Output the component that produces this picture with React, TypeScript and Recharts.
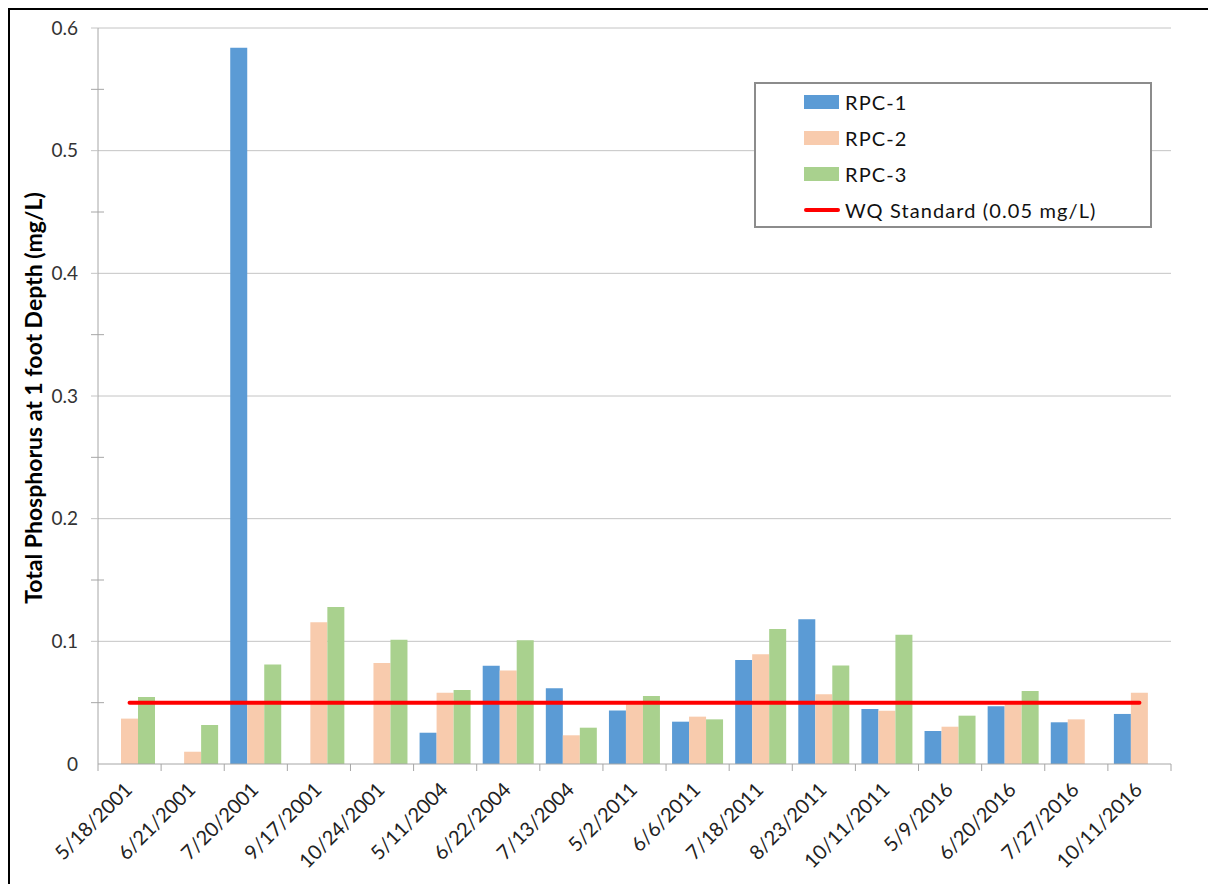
import {
  ComposedChart,
  Bar,
  Line,
  XAxis,
  YAxis,
  CartesianGrid,
  Legend,
} from "recharts";

const dates = [
  "5/18/2001",
  "6/21/2001",
  "7/20/2001",
  "9/17/2001",
  "10/24/2001",
  "5/11/2004",
  "6/22/2004",
  "7/13/2004",
  "5/2/2011",
  "6/6/2011",
  "7/18/2011",
  "8/23/2011",
  "10/11/2011",
  "5/9/2016",
  "6/20/2016",
  "7/27/2016",
  "10/11/2016",
];

const rpc1 = [null, null, 0.584, null, null, 0.0255, 0.08, 0.0617, 0.0437, 0.0345, 0.0848, 0.118, 0.0448, 0.0269, 0.047, 0.034, 0.0408];
const rpc2 = [0.037, 0.01, 0.05, 0.1155, 0.0823, 0.058, 0.0763, 0.0234, 0.05, 0.0386, 0.0894, 0.0568, 0.0434, 0.0304, 0.05, 0.0364, 0.058];
const rpc3 = [0.0546, 0.0318, 0.0812, 0.128, 0.1013, 0.0603, 0.1008, 0.0296, 0.0554, 0.0364, 0.11, 0.0804, 0.1054, 0.0394, 0.0595, null, null];
const wqStandard = 0.05;

const yTicks = [0, 0.05, 0.1, 0.15, 0.2, 0.25, 0.3, 0.35, 0.4, 0.45, 0.5, 0.55, 0.6];
const gridValues = [0.1, 0.2, 0.3, 0.4, 0.5, 0.6];

const data = dates.map((date, i) => ({
  date,
  rpc1: rpc1[i],
  rpc2: rpc2[i],
  rpc3: rpc3[i],
  std: wqStandard,
}));

const FONT = "Lato, 'Noto Sans', sans-serif";
const AXIS_GREY = "#a6a6a6";
const GRID = "#c4c4c4";
const W = 1198;
const H = 880;
const AXIS_X = 88;
const AXIS_Y = 754;
const PLOT_RIGHT = 1161;
const BAND = (PLOT_RIGHT - AXIS_X) / dates.length;

function YTick(props: any) {
  const { y, payload } = props;
  const v = payload.value as number;
  const major = Math.round(v * 100) % 10 === 0;
  if (!major) {
    return <line x1={AXIS_X - 7} x2={AXIS_X + 6} y1={y} y2={y} stroke={AXIS_GREY} />;
  }
  return (
    <g>
      {v > 0 && <line x1={AXIS_X - 7} x2={AXIS_X} y1={y} y2={y} stroke={GRID} />}
      <text x={68} y={y} dy="0.35em" textAnchor="end" fontSize={19} fill="#333" fontFamily={FONT}>
        {v === 0 ? "0" : String(v)}
      </text>
    </g>
  );
}

function XTick(props: any) {
  const { x, payload, index } = props;
  const left = x - BAND / 2;
  return (
    <g>
      <line x1={left} x2={left} y1={AXIS_Y} y2={AXIS_Y + 7} stroke={AXIS_GREY} />
      {index === dates.length - 1 && (
        <line x1={x + BAND / 2} x2={x + BAND / 2} y1={AXIS_Y} y2={AXIS_Y + 7} stroke={AXIS_GREY} />
      )}
      <text
        transform={`translate(${x + 4},${AXIS_Y + 27}) rotate(-45)`}
        textAnchor="end"
        fontSize={20}
        fill="#222"
        fontFamily={FONT}
      >
        {payload.value}
      </text>
    </g>
  );
}

const legendItems = [
  { label: "RPC-1", color: "#5b9bd5", kind: "bar" },
  { label: "RPC-2", color: "#f8cbad", kind: "bar" },
  { label: "RPC-3", color: "#a9d18e", kind: "bar" },
  { label: "WQ Standard (0.05 mg/L)", color: "#ff0000", kind: "line" },
];

function LegendBox() {
  return (
    <div
      style={{
        width: 398,
        height: 146,
        border: "2px solid #8c8c8c",
        background: "#fff",
        fontFamily: FONT,
        fontSize: 20,
        letterSpacing: 1.1,
        color: "#111",
        boxSizing: "border-box",
      }}
    >
      {legendItems.map((it) => (
        <div key={it.label} style={{ display: "flex", alignItems: "center", height: 36, paddingLeft: 48 }}>
          <svg width={36} height={14} style={{ marginRight: 5 }}>
            {it.kind === "bar" ? (
              <rect x={0} y={0} width={35} height={14} fill={it.color} />
            ) : (
              <line x1={2} x2={34} y1={7} y2={7} stroke={it.color} strokeWidth={4} strokeLinecap="round" />
            )}
          </svg>
          <span>{it.label}</span>
        </div>
      ))}
    </div>
  );
}

export default function App() {
  return (
    <div style={{ width: W, height: H, border: "2px solid #000", background: "#fff" }}>
      <ComposedChart
        width={W}
        height={H}
        data={data}
        margin={{ top: 18, right: W - PLOT_RIGHT, bottom: 16, left: 0 }}
        barCategoryGap={6}
        barGap={0}
      >
        <CartesianGrid vertical={false} horizontalValues={gridValues} stroke={GRID} />
        <XAxis
          dataKey="date"
          interval={0}
          height={110}
          axisLine={{ stroke: AXIS_GREY }}
          tickLine={false}
          tick={(p: any) => <XTick {...p} />}
        />
        <YAxis
          width={88}
          domain={[0, 0.6]}
          ticks={yTicks}
          interval={0}
          axisLine={{ stroke: AXIS_GREY }}
          tickLine={false}
          tick={(p: any) => <YTick {...p} />}
          label={{
            content: () => (
              <text
                x={22.5}
                y={388}
                transform="rotate(-90, 22.5, 388)"
                textAnchor="middle"
                dominantBaseline="central"
                fontSize={23}
                fontWeight="bold"
                fill="#000"
                fontFamily={FONT}
              >
                Total Phosphorus at 1 foot Depth (mg/L)
              </text>
            ),
          }}
        />
        <Legend
          layout="vertical"
          align="center"
          verticalAlign="middle"
          wrapperStyle={{ left: 744, top: 72, width: 398, height: 146 }}
          content={() => <LegendBox />}
        />
        <Bar dataKey="rpc1" name="RPC-1" fill="#5b9bd5" isAnimationActive={false} />
        <Bar dataKey="rpc2" name="RPC-2" fill="#f8cbad" isAnimationActive={false} />
        <Bar dataKey="rpc3" name="RPC-3" fill="#a9d18e" isAnimationActive={false} />
        <Line
          dataKey="std"
          name="WQ Standard (0.05 mg/L)"
          stroke="#ff0000"
          strokeWidth={4}
          strokeLinecap="round"
          dot={false}
          activeDot={false}
          isAnimationActive={false}
        />
      </ComposedChart>
    </div>
  );
}
